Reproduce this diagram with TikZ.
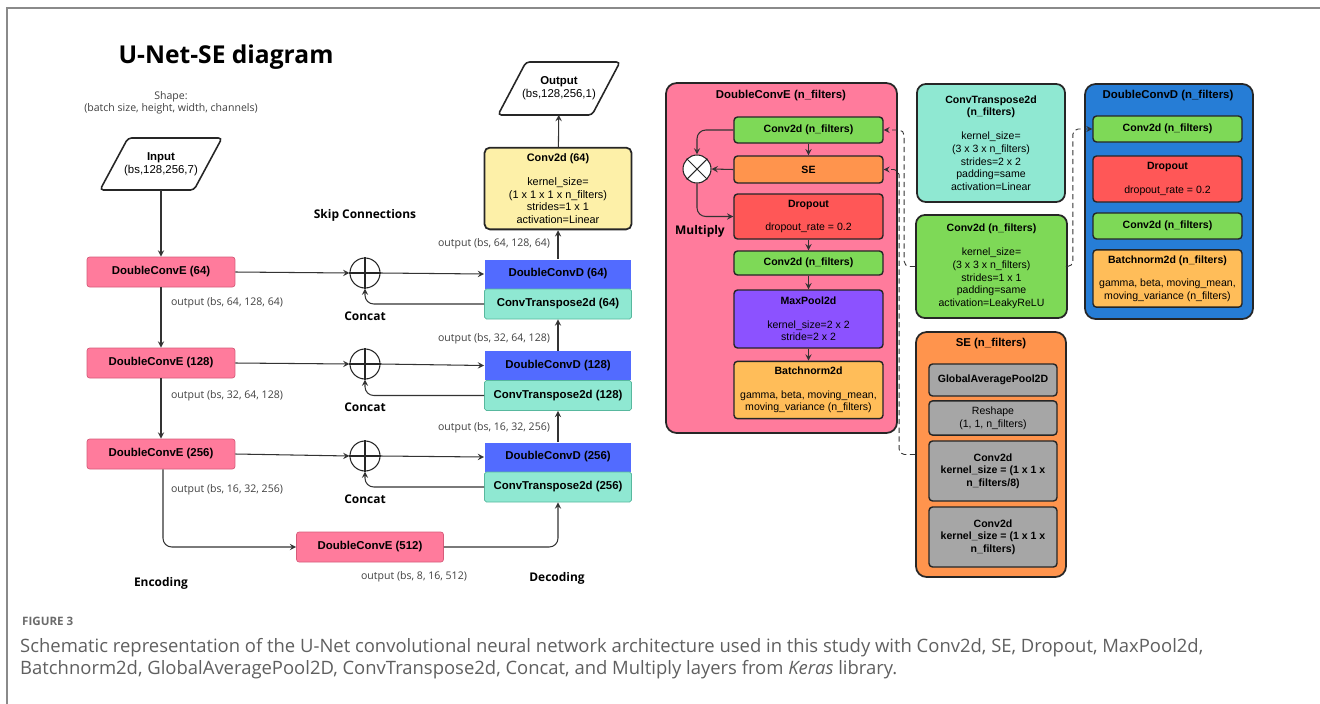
\documentclass[tikz,border=0pt]{standalone}
\usepackage{fontspec}
\setmainfont{Liberation Sans}
\newfontfamily\osans{Open Sans}
\definecolor{encfill}{RGB}{255,123,156}
\definecolor{encline}{RGB}{214,92,122}
\definecolor{decfill}{RGB}{82,107,255}
\definecolor{tfill}{RGB}{143,232,210}
\definecolor{tline}{RGB}{88,184,158}
\definecolor{yfill}{RGB}{253,240,168}
\definecolor{gfill}{RGB}{126,217,87}
\definecolor{ofill}{RGB}{255,148,77}
\definecolor{rfill}{RGB}{255,87,87}
\definecolor{pfill}{RGB}{140,82,255}
\definecolor{bfill}{RGB}{255,189,89}
\definecolor{dfill}{RGB}{38,125,214}
\definecolor{sfill}{RGB}{166,166,166}
\definecolor{capgray}{RGB}{95,95,95}
\definecolor{framegray}{RGB}{138,138,138}
\tikzset{>=stealth,
  encbox/.style={draw=encline, fill=encfill, rounded corners=1.5pt, minimum width=2.96cm, minimum height=0.6cm, font=\bfseries\fontsize{6.5}{7.5}\selectfont},
  decbox/.style={fill=decfill, minimum width=2.94cm, minimum height=0.58cm, font=\bfseries\fontsize{6.5}{7.5}\selectfont},
  tbox/.style={draw=tline, fill=tfill, rounded corners=1pt, minimum width=2.94cm, minimum height=0.6cm, font=\bfseries\fontsize{6.5}{7.5}\selectfont},
  iobox/.style={minimum height=1.04cm, align=center, font=\fontsize{6.5}{7.5}\selectfont},
  parashape/.style={draw=black!85, line width=0.9pt, rounded corners=2pt},
  sumnode/.style={circle, draw=black!85, line width=0.6pt, fill=white, minimum size=0.6cm, inner sep=0pt},
  outnote/.style={font=\osans\fontsize{6}{6.8}\selectfont, text=black!75},
  headtag/.style={font=\osans\bfseries\fontsize{6.8}{8}\selectfont},
  flowarrow/.style={->, draw=black!80, line width=0.6pt},
  layerbox/.style={draw=black!85, line width=0.8pt, rounded corners=2pt, align=center, minimum width=2.98cm, font=\fontsize{6}{7.2}\selectfont},
  groupbox/.style={draw=black!85, line width=1pt, rounded corners=6pt},
  grouptitle/.style={font=\bfseries\fontsize{6.5}{7.5}\selectfont},
  dashlink/.style={->, densely dashed, draw=black!80, line width=0.5pt, rounded corners=3pt},
}
\begin{document}
\begin{tikzpicture}[x=0.02cm, y=-0.02cm]
    \useasboundingbox (0,0) rectangle (1320,704);
    \draw[framegray, line width=0.6pt] (7,704) -- (7,8) -- (1320,8);

    % title and shape note
    \node[font=\osans\bfseries\fontsize{14}{16}\selectfont] (title) at (226,57) {U-Net-SE diagram};
    \node[outnote, align=center] (shape) at (171,103) {Shape:\\(batch size, height, width, channels)};

    % encoder
    \node[iobox] (in) at (161,164) {\textbf{Input}\\(bs,128,256,7)};
    \draw[parashape] (128,138) -- (222,138) -- (194,190) -- (100,190) -- cycle;
    \node[encbox] (e1) at (161,272) {DoubleConvE (64)};
    \node[encbox] (e2) at (161,363) {DoubleConvE (128)};
    \node[encbox] (e3) at (161,454) {DoubleConvE (256)};
    \node[encbox, minimum width=2.94cm] (e4) at (370,547) {DoubleConvE (512)};
    \node[outnote] (o1) at (227,303) {output (bs, 64, 128, 64)};
    \node[outnote] (o2) at (227,396) {output (bs, 32, 64, 128)};
    \node[outnote] (o3) at (227,490) {output (bs, 16, 32, 256)};
    \node[outnote] (o4) at (414,577) {output (bs, 8, 16, 512)};
    \node[headtag] (enc) at (161,583) {Encoding};

    % skip connections
    \node[headtag] (skip) at (365,215) {Skip Connections};
    \foreach \i/\y in {1/273, 2/364, 3/456} {
        \node[sumnode] (c\i) at (365,\y) {};
        \draw[black!85, line width=0.6pt] (c\i.north) -- (c\i.south) (c\i.west) -- (c\i.east);
        \node[headtag] (cl\i) at (365,\y+43) {Concat};
    }

    % decoder
    \node[decbox] (d1) at (558,274) {DoubleConvD (64)};
    \node[tbox] (t1) at (558,304) {ConvTranspose2d (64)};
    \node[decbox] (d2) at (558,365.5) {DoubleConvD (128)};
    \node[tbox] (t2) at (558,395.5) {ConvTranspose2d (128)};
    \node[decbox] (d3) at (558,457) {DoubleConvD (256)};
    \node[tbox] (t3) at (558,487) {ConvTranspose2d (256)};
    \node[draw=black!85, line width=1pt, fill=yfill, rounded corners=3pt, minimum width=2.94cm, minimum height=1.62cm, align=center, font=\fontsize{6.2}{7.2}\selectfont] (conv) at (558,188.5)
        {\textbf{Conv2d (64)}\\[6.5pt]kernel\_size=\\(1 x 1 x 1 x n\_filters)\\strides=1 x 1\\activation=Linear};
    \node[iobox] (out) at (559,88.5) {\textbf{Output}\\(bs,128,256,1)};
    \draw[parashape] (526,62) -- (620,62) -- (592,115) -- (498,115) -- cycle;
    \node[outnote] (p1) at (494,244) {output (bs, 64, 128, 64)};
    \node[outnote] (p2) at (494,339) {output (bs, 32, 64, 128)};
    \node[outnote] (p3) at (494,428) {output (bs, 16, 32, 256)};
    \node[headtag] (dec) at (557,578) {Decoding};

    % connectors
    \draw[flowarrow] (in) -- (e1);
    \draw[flowarrow] (e1) -- (e2);
    \draw[flowarrow] (e2) -- (e3);
    \draw[flowarrow, rounded corners=5pt] ([xshift=0.04cm]e3.south) |- (e4.west);
    \draw[flowarrow, rounded corners=5pt] (e4.east) -| (t3.south);
    \foreach \i in {1,2,3} {
        \draw[flowarrow] (e\i.east) -- (c\i.west);
        \draw[flowarrow] (c\i.east) -- (d\i.west);
        \draw[flowarrow, rounded corners=5pt] (t\i.west) -| (c\i.south);
    }
    \draw[flowarrow] (d3.north) -- (t2.south);
    \draw[flowarrow] (d2.north) -- (t1.south);
    \draw[flowarrow] (d1) -- (conv);
    \draw[flowarrow] (conv) -- (out);

    % DoubleConvE block
    \node[groupbox, fill=encfill, minimum width=4.62cm, minimum height=7cm] (gE) at (781.5,258) {};
    \node[grouptitle] (gEt) at (781,96) {DoubleConvE (n\_filters)};
    \node[layerbox, fill=gfill, minimum height=0.52cm] (ec1) at (808.5,130) {\textbf{Conv2d (n\_filters)}};
    \node[layerbox, fill=ofill, minimum height=0.54cm] (ese) at (808.5,169.5) {\textbf{SE}};
    \node[layerbox, fill=rfill, minimum height=0.9cm] (edrop) at (808.5,216.5) {\textbf{Dropout}\\[6pt]dropout\_rate = 0.2};
    \node[layerbox, fill=gfill, minimum height=0.48cm] (ec2) at (808.5,263) {\textbf{Conv2d (n\_filters)}};
    \node[layerbox, fill=pfill, minimum height=1.16cm] (epool) at (808.5,319) {\textbf{MaxPool2d}\\[6pt]kernel\_size=2 x 2\\stride=2 x 2};
    \node[layerbox, fill=bfill, minimum height=1.12cm] (ebn) at (808.5,390) {\textbf{Batchnorm2d}\\[6pt]gamma, beta, moving\_mean,\\moving\_variance (n\_filters)};
    \node[sumnode, minimum size=0.56cm] (mul) at (697,169) {};
    \draw[black!85, line width=0.6pt] (mul.north west) -- (mul.south east) (mul.north east) -- (mul.south west);
    \node[headtag] (mull) at (700,231) {Multiply};
    \draw[flowarrow] (ec1) -- (ese);
    \draw[flowarrow] (edrop) -- (ec2);
    \draw[flowarrow] (ec2) -- (epool);
    \draw[flowarrow] (epool) -- (ebn);
    \draw[flowarrow, rounded corners=5pt] (ec1.west) -| (mul.north);
    \draw[flowarrow] (ese.west) -- (mul.east);
    \draw[flowarrow, rounded corners=5pt] (mul.south) |- (edrop.west);

    % ConvTranspose2d and Conv2d details
    \node[layerbox, fill=tfill, line width=1pt, rounded corners=5pt, minimum width=2.96cm, minimum height=2.36cm] (ctd) at (991,143)
        {\textbf{ConvTranspose2d}\\\textbf{(n\_filters)}\\[6.5pt]kernel\_size=\\(3 x 3 x n\_filters)\\strides=2 x 2\\padding=same\\activation=Linear};
    \node[layerbox, fill=gfill, line width=1pt, rounded corners=5pt, minimum width=3.02cm, minimum height=2.06cm] (c2d) at (991.5,266.5)
        {\textbf{Conv2d (n\_filters)}\\[6.5pt]kernel\_size=\\(3 x 3 x n\_filters)\\strides=1 x 1\\padding=same\\activation=LeakyReLU};

    % DoubleConvD block
    \node[groupbox, fill=dfill, minimum width=3.36cm, minimum height=4.7cm] (gD) at (1169,201.5) {};
    \node[grouptitle] (gDt) at (1168,96) {DoubleConvD (n\_filters)};
    \node[layerbox, fill=gfill, minimum height=0.52cm] (dc1) at (1167.5,129) {\textbf{Conv2d (n\_filters)}};
    \node[layerbox, fill=rfill, minimum height=0.92cm] (ddrop) at (1167.5,179) {\textbf{Dropout}\\[6pt]dropout\_rate = 0.2};
    \node[layerbox, fill=gfill, minimum height=0.52cm] (dc2) at (1167.5,226) {\textbf{Conv2d (n\_filters)}};
    \node[layerbox, fill=bfill, minimum height=1.1cm] (dbn) at (1167.5,278.5) {\textbf{Batchnorm2d (n\_filters)}\\[6pt]gamma, beta, moving\_mean,\\moving\_variance (n\_filters)};

    % SE block
    \node[groupbox, fill=ofill, minimum width=3cm, minimum height=4.9cm] (gS) at (991,454.5) {};
    \node[grouptitle] (gSt) at (991,344) {SE (n\_filters)};
    \node[layerbox, fill=sfill, minimum width=2.56cm, minimum height=0.64cm] (sgap) at (993,380) {\textbf{GlobalAveragePool2D}};
    \node[layerbox, fill=sfill, minimum width=2.56cm, minimum height=0.56cm] (sres) at (993,418) {Reshape\\(1, 1, n\_filters)};
    \node[layerbox, fill=sfill, minimum width=2.56cm, minimum height=1.2cm, font=\bfseries\fontsize{6}{7.2}\selectfont] (sc1) at (993,471) {Conv2d\\kernel\_size = (1 x 1 x\\n\_filters/8)};
    \node[layerbox, fill=sfill, minimum width=2.56cm, minimum height=1.2cm, font=\bfseries\fontsize{6}{7.2}\selectfont] (sc2) at (993,537) {Conv2d\\kernel\_size = (1 x 1 x\\n\_filters)};

    % dashed links
    \draw[dashlink] (c2d.west) -- ++(-11,0) |- (ec1.east);
    \draw[dashlink] (gS.west) -- ++(-16,0) |- (ese.east);
    \draw[dashlink] (c2d.east) -- ++(5,0) |- (dc1.west);

    % caption
    \node[anchor=west, font=\osans\bfseries\fontsize{6.6}{8}\selectfont, text=black!58] (fig) at (16,621) {FIGURE 3};
    \node[anchor=north west, align=left, font=\osans\fontsize{10.5}{12.6}\selectfont, text=capgray] (cap) at (14,632)
        {Schematic representation of the U-Net convolutional neural network architecture used in this study with Conv2d, SE, Dropout, MaxPool2d,\\Batchnorm2d, GlobalAveragePool2D, ConvTranspose2d, Concat, and Multiply layers from \textit{Keras} library.};
\end{tikzpicture}
\end{document}
